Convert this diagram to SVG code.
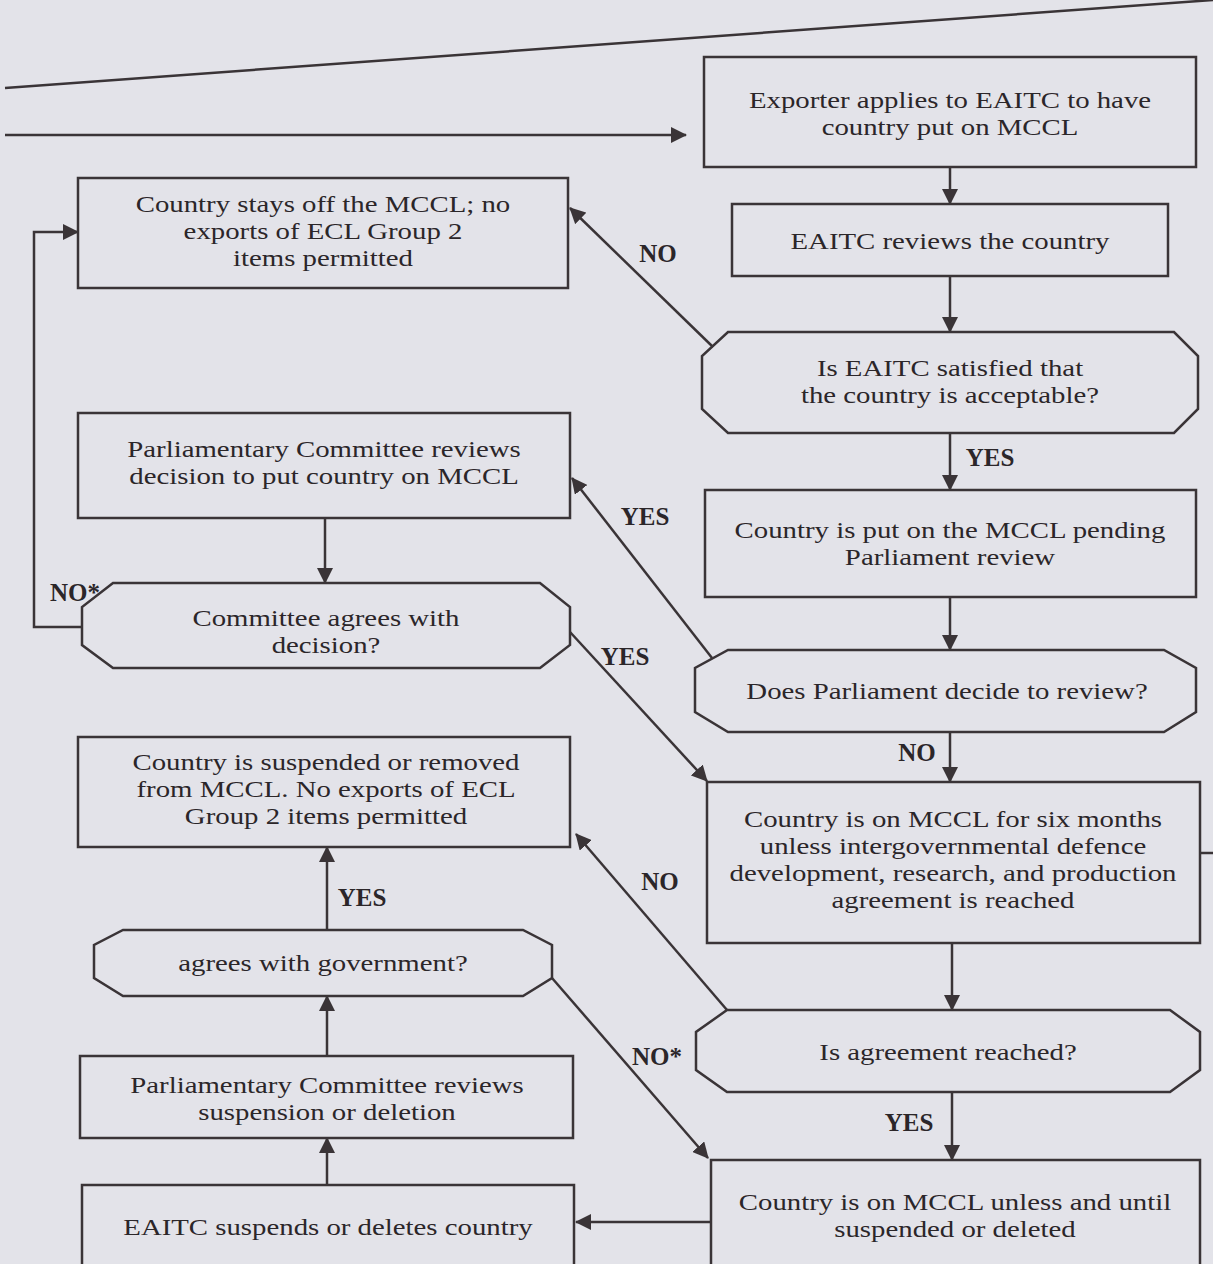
<svg xmlns="http://www.w3.org/2000/svg" width="1213" height="1264" viewBox="0 0 1213 1264">
<style>
.bg{fill:#e3e3e9}
.box{fill:none;stroke:#3a3437;stroke-width:2.5}
.ln{fill:none;stroke:#3a3437;stroke-width:2.5}
.t{font-family:"Liberation Serif","Times New Roman",serif;font-size:24px;fill:#2b2629;text-anchor:middle}
.lb{font-family:"Liberation Serif","Times New Roman",serif;font-size:25px;font-weight:bold;fill:#2b2629;text-anchor:middle}
</style>
<defs>
<marker id="ah" markerUnits="userSpaceOnUse" markerWidth="16" markerHeight="16" viewBox="0 0 16 16" refX="15" refY="8" orient="auto">
<path d="M0,0 L16,8 L0,16 Z" fill="#3a3437"/>
</marker>
</defs>
<rect class="bg" x="0" y="0" width="1213" height="1264"/>

<g id="connectors">
<line class="ln" x1="5" y1="88" x2="1213" y2="0"/>
<line class="ln" x1="5" y1="135" x2="686" y2="135" marker-end="url(#ah)"/>
<line class="ln" x1="950" y1="167" x2="950" y2="204" marker-end="url(#ah)"/>
<line class="ln" x1="950" y1="276" x2="950" y2="332" marker-end="url(#ah)"/>
<line class="ln" x1="950" y1="433" x2="950" y2="490" marker-end="url(#ah)"/>
<line class="ln" x1="950" y1="597" x2="950" y2="650" marker-end="url(#ah)"/>
<line class="ln" x1="950" y1="732" x2="950" y2="782" marker-end="url(#ah)"/>
<line class="ln" x1="952" y1="943" x2="952" y2="1010" marker-end="url(#ah)"/>
<line class="ln" x1="952" y1="1092" x2="952" y2="1160" marker-end="url(#ah)"/>
<line class="ln" x1="711" y1="1222" x2="576" y2="1222" marker-end="url(#ah)"/>
<line class="ln" x1="327" y1="1185" x2="327" y2="1138" marker-end="url(#ah)"/>
<line class="ln" x1="327" y1="1056" x2="327" y2="996" marker-end="url(#ah)"/>
<line class="ln" x1="327" y1="930" x2="327" y2="847" marker-end="url(#ah)"/>
<line class="ln" x1="325" y1="518" x2="325" y2="583" marker-end="url(#ah)"/>
<polyline class="ln" points="82,627 34,627 34,232 78,232" marker-end="url(#ah)"/>
<line class="ln" x1="713" y1="347" x2="570" y2="208" marker-end="url(#ah)"/>
<line class="ln" x1="712" y1="658" x2="572" y2="478" marker-end="url(#ah)"/>
<line class="ln" x1="570" y1="632" x2="707" y2="781" marker-end="url(#ah)"/>
<line class="ln" x1="727" y1="1010" x2="576" y2="834" marker-end="url(#ah)"/>
<line class="ln" x1="552" y1="978" x2="708" y2="1158" marker-end="url(#ah)"/>
<line class="ln" x1="1200" y1="853" x2="1213" y2="853"/>
<text class="lb" x="658" y="262">NO</text>
<text class="lb" x="990" y="466">YES</text>
<text class="lb" x="645" y="525">YES</text>
<text class="lb" x="75" y="601">NO*</text>
<text class="lb" x="625" y="665">YES</text>
<text class="lb" x="917" y="761">NO</text>
<text class="lb" x="660" y="890">NO</text>
<text class="lb" x="362" y="906">YES</text>
<text class="lb" x="657" y="1065">NO*</text>
<text class="lb" x="909" y="1131">YES</text>
</g>

<g id="exporter-applies">
<rect class="box" x="704" y="57" width="492" height="110"/>
<text class="t" transform="matrix(1.2 0 0 1 950 0)" x="0" y="108">Exporter applies to EAITC to have</text>
<text class="t" transform="matrix(1.2 0 0 1 950 0)" x="0" y="135">country put on MCCL</text>
</g>
<g id="eaitc-reviews">
<rect class="box" x="732" y="204" width="436" height="72"/>
<text class="t" transform="matrix(1.2 0 0 1 950 0)" x="0" y="249">EAITC reviews the country</text>
</g>
<g id="eaitc-satisfied">
<polygon class="box" points="728,332 1174,332 1198,356 1198,409 1174,433 728,433 702,409 702,356"/>
<text class="t" transform="matrix(1.2 0 0 1 950 0)" x="0" y="376">Is EAITC satisfied that</text>
<text class="t" transform="matrix(1.2 0 0 1 950 0)" x="0" y="403">the country is acceptable?</text>
</g>
<g id="put-on-mccl">
<rect class="box" x="705" y="490" width="491" height="107"/>
<text class="t" transform="matrix(1.2 0 0 1 950 0)" x="0" y="538">Country is put on the MCCL pending</text>
<text class="t" transform="matrix(1.2 0 0 1 950 0)" x="0" y="565">Parliament review</text>
</g>
<g id="parliament-decide">
<polygon class="box" points="728,650 1164,650 1196,668 1196,712 1164,732 728,732 695,712 695,668"/>
<text class="t" transform="matrix(1.2 0 0 1 947 0)" x="0" y="699">Does Parliament decide to review?</text>
</g>
<g id="six-months">
<rect class="box" x="707" y="782" width="493" height="161"/>
<text class="t" transform="matrix(1.2 0 0 1 953 0)" x="0" y="827">Country is on MCCL for six months</text>
<text class="t" transform="matrix(1.2 0 0 1 953 0)" x="0" y="854">unless intergovernmental defence</text>
<text class="t" transform="matrix(1.2 0 0 1 953 0)" x="0" y="881">development, research, and production</text>
<text class="t" transform="matrix(1.2 0 0 1 953 0)" x="0" y="908">agreement is reached</text>
</g>
<g id="agreement-reached">
<polygon class="box" points="727,1010 1170,1010 1200,1032 1200,1070 1170,1092 727,1092 696,1070 696,1032"/>
<text class="t" transform="matrix(1.2 0 0 1 948 0)" x="0" y="1060">Is agreement reached?</text>
</g>
<g id="on-mccl-until">
<rect class="box" x="711" y="1160" width="489" height="115"/>
<text class="t" transform="matrix(1.2 0 0 1 955 0)" x="0" y="1210">Country is on MCCL unless and until</text>
<text class="t" transform="matrix(1.2 0 0 1 955 0)" x="0" y="1237">suspended or deleted</text>
</g>
<g id="eaitc-suspends">
<rect class="box" x="82" y="1185" width="492" height="90"/>
<text class="t" transform="matrix(1.2 0 0 1 328 0)" x="0" y="1235">EAITC suspends or deletes country</text>
</g>
<g id="committee-reviews-suspension">
<rect class="box" x="80" y="1056" width="493" height="82"/>
<text class="t" transform="matrix(1.2 0 0 1 327 0)" x="0" y="1093">Parliamentary Committee reviews</text>
<text class="t" transform="matrix(1.2 0 0 1 327 0)" x="0" y="1120">suspension or deletion</text>
</g>
<g id="agrees-government">
<polygon class="box" points="123,930 523,930 552,945 552,978 523,996 123,996 94,978 94,945"/>
<text class="t" transform="matrix(1.2 0 0 1 323 0)" x="0" y="971">agrees with government?</text>
</g>
<g id="suspended-removed">
<rect class="box" x="78" y="737" width="492" height="110"/>
<text class="t" transform="matrix(1.2 0 0 1 326 0)" x="0" y="770">Country is suspended or removed</text>
<text class="t" transform="matrix(1.2 0 0 1 326 0)" x="0" y="797">from MCCL. No exports of ECL</text>
<text class="t" transform="matrix(1.2 0 0 1 326 0)" x="0" y="824">Group 2 items permitted</text>
</g>
<g id="committee-agrees">
<polygon class="box" points="113,583 540,583 570,607 570,645 540,668 113,668 82,645 82,607"/>
<text class="t" transform="matrix(1.2 0 0 1 326 0)" x="0" y="626">Committee agrees with</text>
<text class="t" transform="matrix(1.2 0 0 1 326 0)" x="0" y="653">decision?</text>
</g>
<g id="committee-reviews-decision">
<rect class="box" x="78" y="413" width="492" height="105"/>
<text class="t" transform="matrix(1.2 0 0 1 324 0)" x="0" y="457">Parliamentary Committee reviews</text>
<text class="t" transform="matrix(1.2 0 0 1 324 0)" x="0" y="484">decision to put country on MCCL</text>
</g>
<g id="stays-off">
<rect class="box" x="78" y="178" width="490" height="110"/>
<text class="t" transform="matrix(1.2 0 0 1 323 0)" x="0" y="212">Country stays off the MCCL; no</text>
<text class="t" transform="matrix(1.2 0 0 1 323 0)" x="0" y="239">exports of ECL Group 2</text>
<text class="t" transform="matrix(1.2 0 0 1 323 0)" x="0" y="266">items permitted</text>
</g>
</svg>
